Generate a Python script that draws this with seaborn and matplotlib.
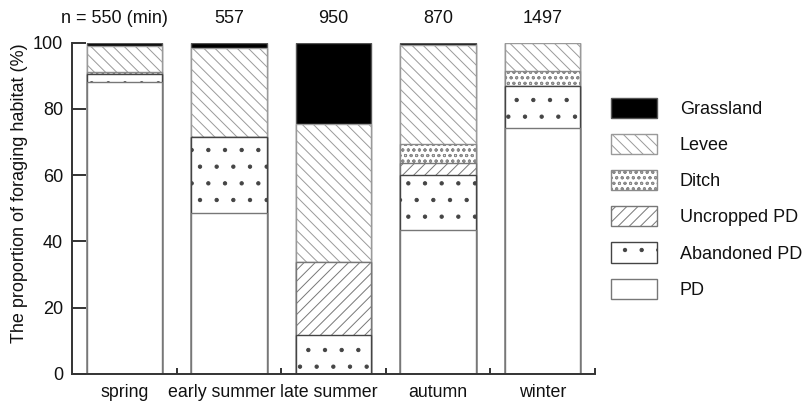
"""
Seasonal composition of foraging habitat, stacked bars drawn with seaborn.
"""
import matplotlib
matplotlib.use("Agg")  # no display
import matplotlib.pyplot as plt
from matplotlib.patches import Patch
import numpy as np
import seaborn as sns

# data (percent of foraging time, bottom layer first)
seasons = ["spring", "early summer", "late summer", "autumn", "winter"]
n_labels = ["n = 550 (min)", "557", "950", "870", "1497"]
habitats = ["PD", "Abandoned PD", "Uncropped PD", "Ditch", "Levee", "Grassland"]
pd_share = [88.2, 48.5, 0.0, 43.4, 74.2]
abandoned_pd = [2.3, 22.9, 11.7, 16.7, 12.8]
uncropped_pd = [0.0, 0.0, 22.0, 3.7, 0.0]
ditch = [0.8, 0.0, 0.0, 5.6, 4.4]
levee = [7.7, 26.9, 41.8, 30.0, 8.6]
grassland = [1.0, 1.7, 24.5, 0.6, 0.0]

layers = [pd_share, abandoned_pd, uncropped_pd, ditch, levee, grassland]

# fill, edge/hatch colour, hatch
STYLES = {
    "PD": ("white", "#777777", ""),
    "Abandoned PD": ("white", "#444444", "."),
    "Uncropped PD": ("white", "#777777", "///"),
    "Ditch": ("white", "#8a8a8a", "ooo"),
    "Levee": ("white", "#9a9a9a", "\\\\\\"),
    "Grassland": ("black", "#555555", ""),
}

FS = 13
TXT = "#111111"
AXC = "#333333"

sns.set_style("white")
plt.rcParams["font.family"] = ["Liberation Sans", "DejaVu Sans"]
plt.rcParams["hatch.linewidth"] = 0.7

fig = plt.figure(figsize=(8.08, 4.04), dpi=100)
ax = fig.add_axes([72 / 808, 30 / 404, (595 - 72) / 808, (374 - 42.7) / 404])

# cumulative heights, drawn from the top layer down so lower layers cover
cum = np.cumsum(np.array(layers), axis=0)
for name, heights in reversed(list(zip(habitats, cum))):
    fc, ec, hatch = STYLES[name]
    sns.barplot(x=seasons, y=heights, color=fc, edgecolor=ec, hatch=hatch,
                saturation=1, width=0.72, linewidth=1.0, errorbar=None, ax=ax)

ax.set_xlim(-0.5, 4.5)
ax.set_ylim(0, 100)
ax.set_axisbelow(False)  # seaborn style puts ticks under the bars

# axes styling
for side in ["top", "right"]:
    ax.spines[side].set_visible(False)
for side in ["left", "bottom"]:
    ax.spines[side].set_color(AXC)
    ax.spines[side].set_linewidth(1.4)

ax.set_yticks(range(0, 101, 20))
ax.tick_params(axis="y", left=True, direction="in", length=10, width=1.4,
               color=AXC, pad=6.5, labelsize=FS, labelcolor=TXT)
ax.set_xticks([0.5, 1.5, 2.5, 3.5, 4.5])
ax.set_xticklabels([])
ax.tick_params(axis="x", which="major", bottom=True, direction="in",
               length=4.5, width=1.4, color=AXC)
# season labels sit under the bars, the two summer ones a touch apart
ax.set_xticks([0, 0.935, 1.955, 3, 4], minor=True)
ax.set_xticklabels(seasons, minor=True)
ax.tick_params(axis="x", which="minor", bottom=True, length=0, pad=7,
               labelsize=12.8, labelcolor=TXT)
ax.set_xlabel("")
ax.set_ylabel("The proportion of foraging habitat (%)", fontsize=FS, color=TXT)
ax.yaxis.set_label_coords(-0.084, 0.546)

# sample sizes above bars
for i, lab in enumerate(n_labels):
    xpos = i - 0.09 if i == 0 else i
    ax.text(xpos, 107.2, lab, ha="center", va="center", fontsize=FS,
            color=TXT, clip_on=False)

# legend, top layer first
handles = []
for name in reversed(habitats):
    fc, ec, hatch = STYLES[name]
    handles.append(Patch(facecolor=fc, edgecolor=ec, hatch=hatch, label=name))
fig.legend(handles=handles, loc="upper left",
           bbox_to_anchor=(611 / 808, 1 - 98 / 404), frameon=False,
           fontsize=FS, handlelength=2.55, handleheight=1.33,
           labelspacing=0.89, handletextpad=1.27, borderpad=0,
           borderaxespad=0, labelcolor=TXT)

fig.savefig("out.png", dpi=100)
plt.close(fig)
